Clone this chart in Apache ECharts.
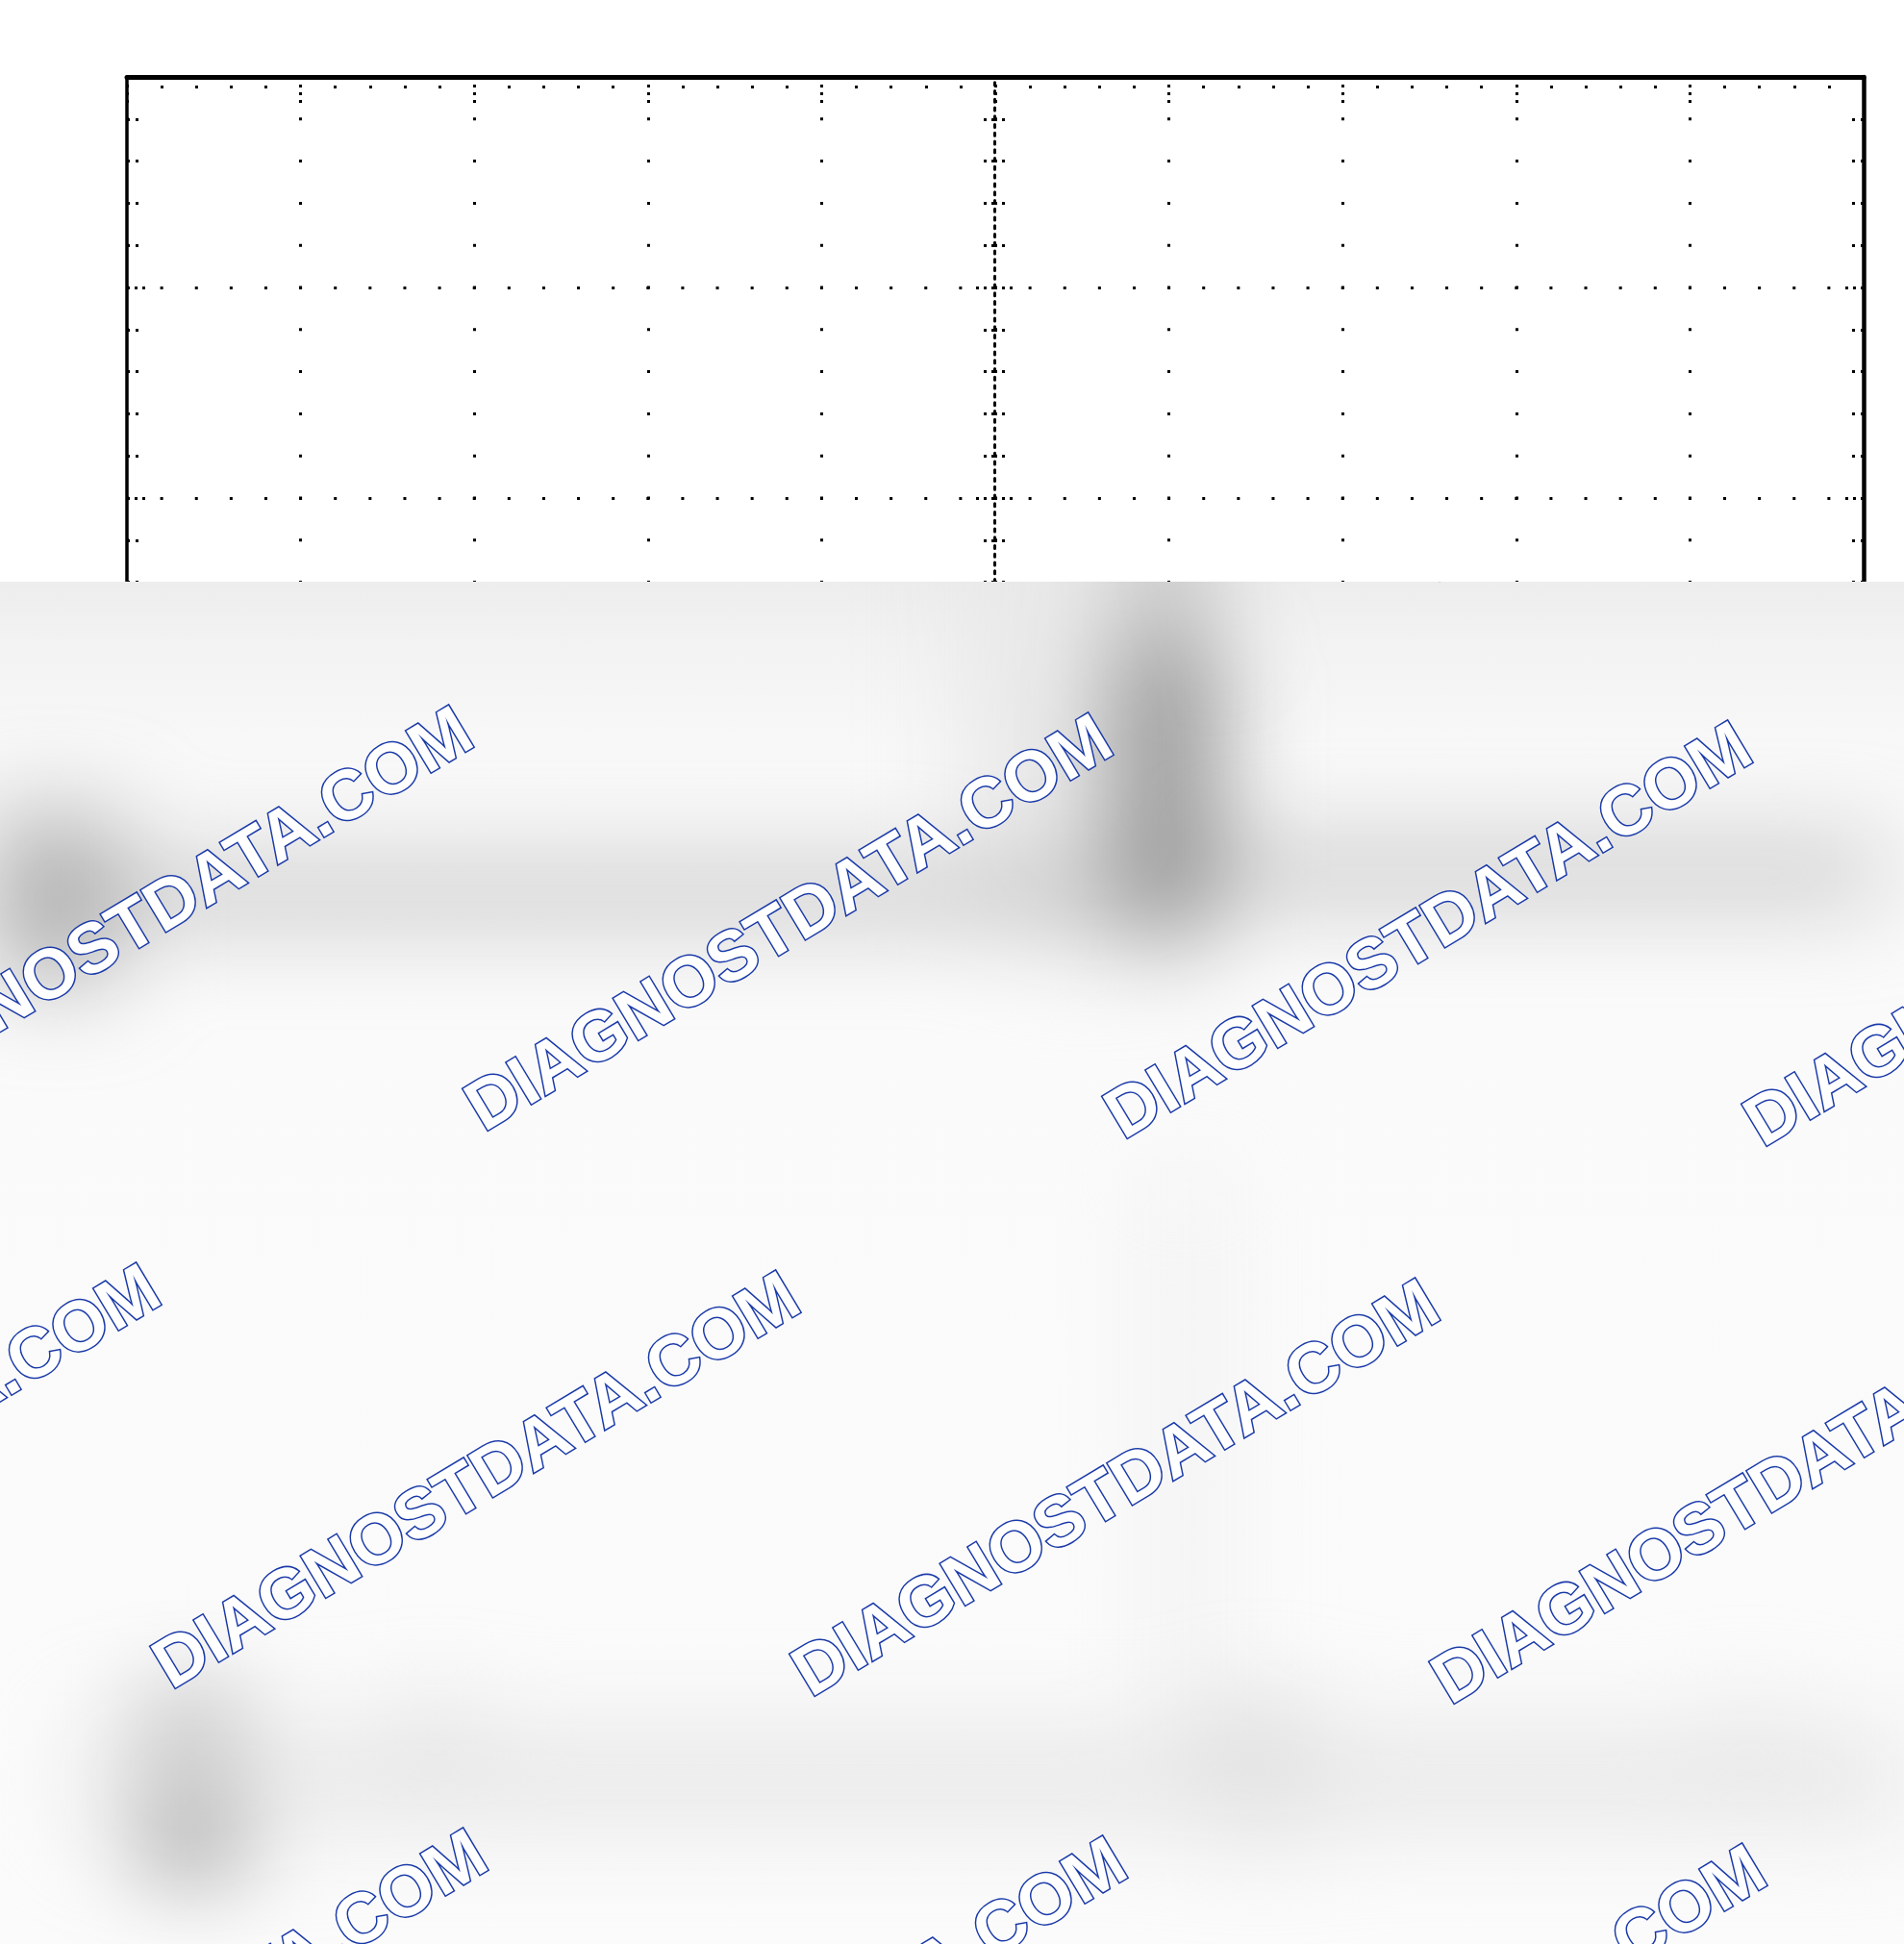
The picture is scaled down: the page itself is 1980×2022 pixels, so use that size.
<!DOCTYPE html>
<html><head><meta charset="utf-8">
<script src="https://cdn.jsdelivr.net/npm/echarts@6/dist/echarts.min.js"></script>
<style>
html,body{margin:0;padding:0;background:#fff;}
#page{position:relative;width:1980px;height:2022px;overflow:hidden;background:#fff;}
#main{position:absolute;left:0;top:0;width:1980px;height:2022px;}
#blurWrap{position:absolute;left:0;top:605px;width:1980px;height:1417px;overflow:hidden;
  background:linear-gradient(to bottom,#ededed 0px,#f2f2f2 60px,#f8f8f8 170px,#fafafa 400px,#fbfbfb 100%);}
#blurChart{position:absolute;left:-200px;top:-605px;width:2380px;height:2300px;filter:blur(50px);}
#wmWrap{position:absolute;left:0;top:605px;width:1980px;height:1417px;overflow:hidden;}
#wm{position:absolute;left:0;top:-605px;width:1980px;height:2022px;}
</style></head><body>
<div id="page">
  <div id="main"></div>
  <div id="blurWrap"><div id="blurChart"></div></div>
  <div id="wmWrap"><div id="wm"></div></div>
</div>
<script>
// ---- graticule (divisions) ----
const xDivisions = [0, 10];      // horizontal divisions
const yDivisions = [-4, 4];      // vertical divisions
const minorPerDivision = 5;

// ---- blurred trace (division units) ----
const traceX = [-1.3, 5.95, 5.99, 6.03, 10.6];
const traceY = [0.12, 0.12, 2.3, 0.22, 0.22];
const spikeX = [5.99, 5.99];
const spikeY = [1.15, 0.1];
const hazeX = [5.45, 5.45];
const hazeY = [2.2, 0.35];
const lowerBandX = [-1.3, 10.6];
const lowerBandY = [-4.08, -4.08];
const lowerStemX = [6.1, 6.1];
const lowerStemY = [-1.3, -3.8];
const edgeX = [-0.58, -0.58];
const edgeY = [-0.5, -5.2];
// blurred markers
const markerX = [-0.42, 0.37, 1.78, 6.52, 9.34];
const markerY = [0.10, -4.12, -4.0, -4.05, -4.0];

// ---- watermark ----
const watermarkText = 'DIAGNOSTDATA.COM';

const zip = (a, b) => a.map((v, i) => [v, b[i]]);
const black = '#000';

// ================= main graticule chart =================
const main = echarts.init(document.getElementById('main'), null, {width: 1980, height: 2022});
const hiddenLabel = {show: false};
main.setOption({
  animation: false,
  backgroundColor: '#fff',
  grid: {left: 132, top: 80, width: 1806, height: 1752},
  xAxis: [
    {type: 'value', min: xDivisions[0], max: xDivisions[1], interval: 1, position: 'top',
     axisLine: {show: true, onZero: false, lineStyle: {color: black, width: 5}},
     axisTick: {show: true, inside: true, length: 28, lineStyle: {color: black, width: 3, type: [3, 5]}},
     minorTick: {show: true, splitNumber: minorPerDivision, length: 14, lineStyle: {color: black, width: 3, type: [3, 6]}},
     axisLabel: hiddenLabel,
     splitLine: {show: true, lineStyle: {color: black, width: 3, type: [3, 40.8], dashOffset: 1.5}},
     minorSplitLine: {show: false}},
    {type: 'value', min: xDivisions[0], max: xDivisions[1], interval: 1, position: 'bottom',
     axisLine: {show: true, onZero: false, lineStyle: {color: black, width: 4}},
     axisTick: {show: false}, axisLabel: hiddenLabel, splitLine: {show: false}}
  ],
  yAxis: [
    {type: 'value', min: yDivisions[0], max: yDivisions[1], interval: 1, position: 'left',
     axisLine: {show: true, onZero: false, lineStyle: {color: black, width: 3.5}},
     axisTick: {show: true, inside: true, length: 24, lineStyle: {color: black, width: 3, type: [3, 5]}},
     minorTick: {show: true, splitNumber: minorPerDivision, length: 12, lineStyle: {color: black, width: 3, type: [3, 6]}},
     axisLabel: hiddenLabel,
     splitLine: {show: true, lineStyle: {color: black, width: 3, type: [3, 33.12], dashOffset: 1.5}}},
    {type: 'value', min: yDivisions[0], max: yDivisions[1], interval: 1, position: 'right',
     axisLine: {show: true, onZero: false, lineStyle: {color: black, width: 4.5}},
     axisTick: {show: true, inside: true, length: 22, lineStyle: {color: black, width: 3, type: [3, 5]}},
     minorTick: {show: true, splitNumber: minorPerDivision, length: 12, lineStyle: {color: black, width: 3, type: [3, 6]}},
     axisLabel: hiddenLabel, splitLine: {show: false}},
    // centre vertical scale (ticks to the right)
    {type: 'value', min: yDivisions[0], max: yDivisions[1], interval: 1, position: 'left', offset: -902,
     axisLine: {show: true, onZero: false, lineStyle: {color: black, width: 3, type: [3, 5.76]}},
     axisTick: {show: true, inside: true, length: 22, lineStyle: {color: black, width: 3, type: [3, 5]}},
     minorTick: {show: true, splitNumber: minorPerDivision, length: 13, lineStyle: {color: black, width: 3, type: [3, 5]}},
     axisLabel: hiddenLabel, splitLine: {show: false}},
    // centre vertical scale (ticks to the left)
    {type: 'value', min: yDivisions[0], max: yDivisions[1], interval: 1, position: 'left', offset: -902,
     axisLine: {show: false, onZero: false},
     axisTick: {show: true, inside: false, length: 22, lineStyle: {color: black, width: 3, type: [3, 5]}},
     minorTick: {show: true, splitNumber: minorPerDivision, length: 13, lineStyle: {color: black, width: 3, type: [3, 5]}},
     axisLabel: hiddenLabel, splitLine: {show: false}}
  ],
  series: []
});

// ================= blurred lower area =================
const blur = echarts.init(document.getElementById('blurChart'), null, {width: 2380, height: 2300});
const markerSizes = [[130, 170], [90, 160], [70, 100], [110, 130], [70, 100]];
const markerColors = ['#9c9c9c', '#262626', '#c2c2c2', '#bababa', '#dadada'];
const lineSeries = (name, xs, ys, width, color) => ({
  name, type: 'line', data: zip(xs, ys), symbol: 'none', clip: false, silent: true,
  lineStyle: {width, color, cap: 'round', join: 'round'}
});
blur.setOption({
  animation: false,
  grid: {left: 332, top: 80, width: 1806, height: 1752},
  xAxis: {type: 'value', min: xDivisions[0], max: xDivisions[1], show: false},
  yAxis: {type: 'value', min: yDivisions[0], max: yDivisions[1], show: false},
  series: [
    lineSeries('edge', edgeX, edgeY, 70, '#e6e6e6'),
    lineSeries('lowerBand', lowerBandX, lowerBandY, 90, '#e6e6e6'),
    lineSeries('lowerStem', lowerStemX, lowerStemY, 40, '#ececec'),
    lineSeries('haze', hazeX, hazeY, 220, '#e8e8e8'),
    lineSeries('trace', traceX, traceY, 40, '#adadad'),
    lineSeries('spike', spikeX, spikeY, 100, '#8f8f8f'),
    {name: 'markers', type: 'scatter', clip: false, silent: true, symbol: 'rect',
     data: zip(markerX, markerY).map((p, i) => ({value: p, symbolSize: markerSizes[i], itemStyle: {color: markerColors[i]}}))}
  ]
});

// ================= watermark layer =================
const wm = echarts.init(document.getElementById('wm'), null, {width: 1980, height: 2022});
const wmEls = [];
for (let r = -1; r <= 2; r++) {
  for (let c = -1; c <= 3; c++) {
    const x = 157 + 665 * c - 325 * r;
    const y = 955 + 8 * c + 580 * r;
    if (x < -500 || x > 2500) continue;
    wmEls.push({
      type: 'text', x, y, rotation: 31 * Math.PI / 180, silent: true,
      style: {text: watermarkText, font: 'bold 73px "Liberation Sans", Arial, sans-serif',
              fill: '#ffffff', stroke: '#1a3aa8', lineWidth: 3,
              align: 'center', verticalAlign: 'middle'}
    });
  }
}
wm.setOption({animation: false, graphic: {elements: wmEls}});
</script>
</body></html>
